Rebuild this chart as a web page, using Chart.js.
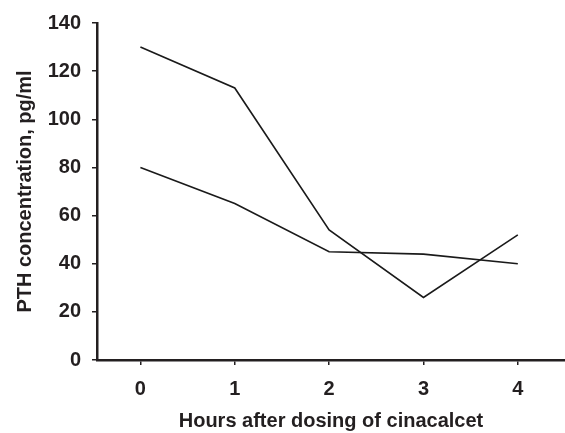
<!DOCTYPE html>
<html>
<head>
<meta charset="utf-8">
<script src="https://cdn.jsdelivr.net/npm/chart.js@4/dist/chart.umd.min.js"></script>
<style>
    html, body { margin: 0; padding: 0; background: #fff; }
    #wrap { width: 565px; height: 433px; }
</style>
</head>
<body>
<div id="wrap"><canvas id="line_chart"></canvas></div>
<script>
var hours = [0, 1, 2, 3, 4];
var patientA = [130, 113, 54, 26, 52];
var patientB = [80, 65, 45, 44, 40];
var yTicks = [0, 20, 40, 60, 80, 100, 120, 140];

var ink = '#231f20';
var font = "'Liberation Sans', Arial, sans-serif";

function toPoints(values) {
    return hours.map(function (h, i) { return { x: h, y: values[i] }; });
}

new Chart(document.getElementById("line_chart").getContext("2d"), {
    type: 'line',
    data: {
        datasets: [{
            label: "Patient A",
            data: toPoints(patientA),
            borderColor: '#1a1a1a',
            borderWidth: 1.6,
            pointRadius: 0,
            tension: 0
        }, {
            label: "Patient B",
            data: toPoints(patientB),
            borderColor: '#1a1a1a',
            borderWidth: 1.6,
            pointRadius: 0,
            tension: 0
        }]
    },
    options: {
        responsive: true,
        maintainAspectRatio: false,
        animation: false,
        layout: { padding: { top: 17, right: 0, left: 0, bottom: 0 } },
        plugins: { legend: { display: false }, tooltip: { enabled: false } },
        scales: {
            x: {
                type: 'linear',
                min: -0.46,
                max: 4.5,
                afterBuildTicks: function (scale) {
                    scale.ticks = hours.map(function (h) { return { value: h }; });
                },
                border: { display: true, color: ink, width: 2.5 },
                grid: { drawOnChartArea: false, drawTicks: true, tickLength: 5, color: ink, lineWidth: 1.5 },
                ticks: {
                    color: ink,
                    padding: 12,
                    font: { family: font, size: 20, weight: 'bold' }
                },
                title: {
                    display: true,
                    text: 'Hours after dosing of cinacalcet',
                    color: ink,
                    padding: { top: 12, bottom: 0 },
                    font: { family: font, size: 20, weight: 'bold' }
                },
                afterFit: function (scale) { scale.height = 73; }
            },
            y: {
                min: 0,
                max: 140,
                afterBuildTicks: function (scale) {
                    scale.ticks = yTicks.map(function (v) { return { value: v }; });
                },
                border: { display: true, color: ink, width: 2.5 },
                grid: { drawOnChartArea: false, drawTicks: true, tickLength: 5, color: ink, lineWidth: 1.5 },
                ticks: {
                    color: ink,
                    padding: 11,
                    font: { family: font, size: 20, weight: 'bold' }
                },
                title: {
                    display: true,
                    text: 'PTH concentration, pg/ml',
                    color: ink,
                    padding: { top: 13, bottom: 0 },
                    font: { family: font, size: 20, weight: 'bold' }
                },
                afterFit: function (scale) { scale.width = 97; }
            }
        }
    }
});
</script>
</body>
</html>
